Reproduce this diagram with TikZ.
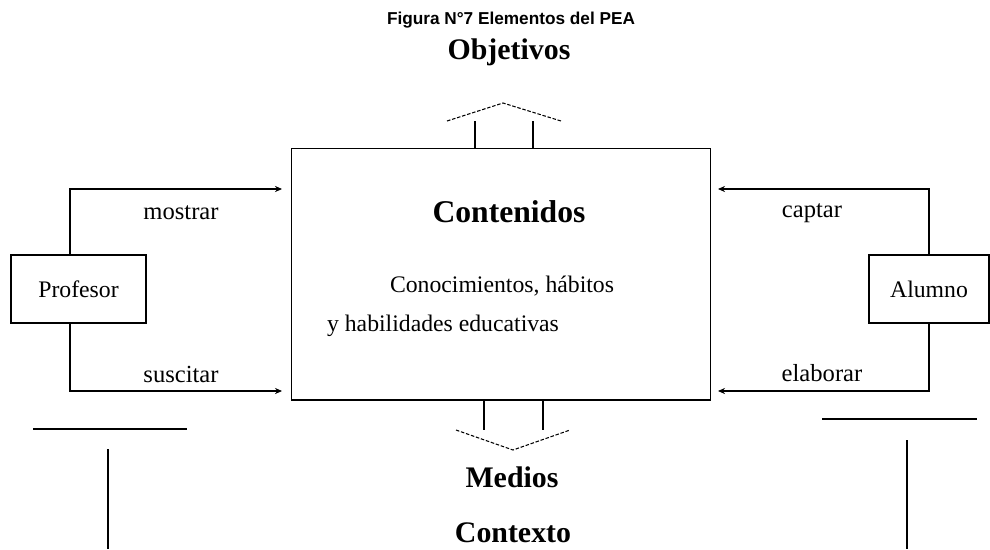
\documentclass[tikz,border=0pt]{standalone}
\usepackage{fontspec}
\setmainfont{Liberation Serif}
\newfontfamily\titlefont{Liberation Sans}
\usetikzlibrary{arrows.meta,calc,positioning}
\tikzset{
  line/.style={line width=0.6pt},
  flow/.style={line, -{Stealth[length=4pt,width=3.5pt]}},
  hollow/.style={line, dash pattern=on 2pt off 1pt},
  actor/.style={draw, line width=0.6pt, minimum width=2.7cm, minimum height=1.36cm,
    font=\fontsize{13.5}{15}\selectfont},
  verb/.style={font=\fontsize{14}{16}\selectfont},
  head/.style={font=\fontsize{17}{19}\selectfont\bfseries}
}
\begin{document}
\begin{tikzpicture}[x=0.02cm,y=-0.02cm]
  \useasboundingbox (0,0) rectangle (990,549);
  % titulo
  \node[font=\titlefont\fontsize{9.8}{11}\selectfont\bfseries] (tit) at (511,20)
    {Figura N°7 Elementos del PEA};
  \node[head] (obj) at (509,52) {Objetivos};
  % caja central
  \node[draw, line, minimum width=8.4cm, minimum height=5.04cm] (cont) at (501,274) {};
  \node[head, font=\fontsize{18}{20}\selectfont\bfseries] (conth) at (509,212) {Contenidos};
  \node[verb, font=\fontsize{13.5}{15}\selectfont] (conoc) at (502,286) {Conocimientos, hábitos};
  \node[verb, font=\fontsize{13.5}{15}\selectfont] (habil) at (443,326) {y habilidades educativas};
  % actores
  \node[actor] (prof) at (78.5,289) {Profesor};
  \node[actor, minimum width=2.4cm] (alum) at (929,289) {Alumno};
  \coordinate (pTop) at (282,189);
  \coordinate (pBot) at (282,391);
  \coordinate (aTop) at (718,189);
  \coordinate (aBot) at (718,391);
  \draw[flow] (prof.north -| 70,0) |- (pTop);
  \draw[flow] (prof.south -| 70,0) |- (pBot);
  \draw[flow] (alum.north) |- (aTop);
  \draw[flow] (alum.south) |- (aBot);
  \node[verb] (mostrar) at (181,213) {mostrar};
  \node[verb] (suscitar) at (181,374) {suscitar};
  \node[verb] (captar) at (812,213) {captar};
  \node[verb] (elaborar) at (822,373) {elaborar};
  % flecha hacia objetivos
  \draw[line] (475,148) -- (475,121);
  \draw[line] (533,148) -- (533,121);
  \draw[hollow] (447,121) -- (503,103) -- (561,121);
  % flecha hacia medios
  \draw[line] (484,400) -- (484,430);
  \draw[line] (543,400) -- (543,430);
  \draw[hollow] (456,430) -- (513,450) -- (570,430);
  \node[head] (medios) at (512,477) {Medios};
  \node[head] (ctx) at (513,533) {Contexto};
  % lineas de contexto
  \draw[line] (33,429) -- (187,429);
  \draw[line] (108,449) -- (108,549);
  \draw[line] (822,419) -- (977,419);
  \draw[line] (907,440) -- (907,549);
\end{tikzpicture}
\end{document}
